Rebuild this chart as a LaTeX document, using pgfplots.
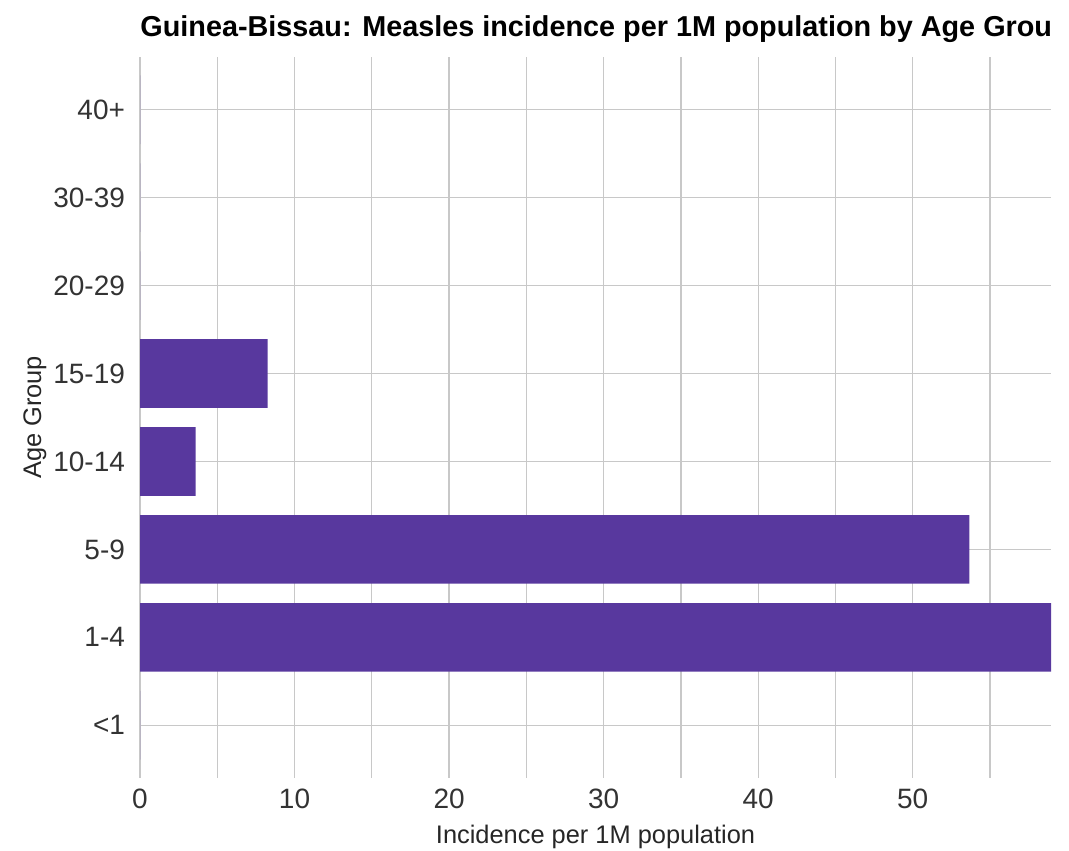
\documentclass[border=0pt]{standalone}
\usepackage{pgfplots}
\pgfplotsset{compat=1.18}
\usepackage{fontspec}
\setmainfont{Liberation Sans}
\definecolor{barc}{RGB}{88,56,158}
\definecolor{gridc}{RGB}{200,200,200}
\begin{document}
\begin{tikzpicture}
\begin{axis}[
  at={(70pt,36pt)}, anchor=south west,
  scale only axis,
  width=455.5pt, height=360.5pt,
  xbar, bar width=0.78,
  xmin=0, xmax=58.95,
  ymin=-0.6, ymax=7.6,
  ytick={0,...,7},
  yticklabels={<1,1-4,5-9,10-14,15-19,20-29,30-39,40+},
  xtick={0,10,20,30,40,50},
  minor xtick={5,15,25,35,45,55},
  grid=both,
  major grid style={gridc, line width=0.65pt},
  minor grid style={gridc, line width=0.65pt},
  axis line style={draw=none},
  major tick length=0pt, minor tick length=0pt,
  tick label style={font=\fontsize{14}{16}\selectfont, text=black!80},
  /pgf/number format/assume math mode=true,
  xticklabel style={yshift=-2pt},
  yticklabel style={xshift=-4pt},
  xlabel={Incidence per 1M population},
  ylabel={Age Group},
  label style={font=\fontsize{12.7}{14}\selectfont, text=black!85},
  xlabel style={at={(axis description cs:0.5,0)}, anchor=base, yshift=-32.5pt},
  ylabel style={at={(axis description cs:-0.1153,0.5)}, anchor=center},
]
\addplot[fill=barc, draw=none] coordinates {
(0,0) (58.95,1) (53.66,2) (3.60,3) (8.26,4) (0,5) (0,6) (0,7)};
\end{axis}
\node[anchor=base west, font=\bfseries\fontsize{14.4}{16}\selectfont, inner sep=0pt] at (70pt,406.5pt) {Guinea-Bissau: Measles incidence per 1M population by Age Grou};
\pgfresetboundingbox
\path[use as bounding box] (0,0) rectangle (534.5pt,425pt);
\end{tikzpicture}
\end{document}
